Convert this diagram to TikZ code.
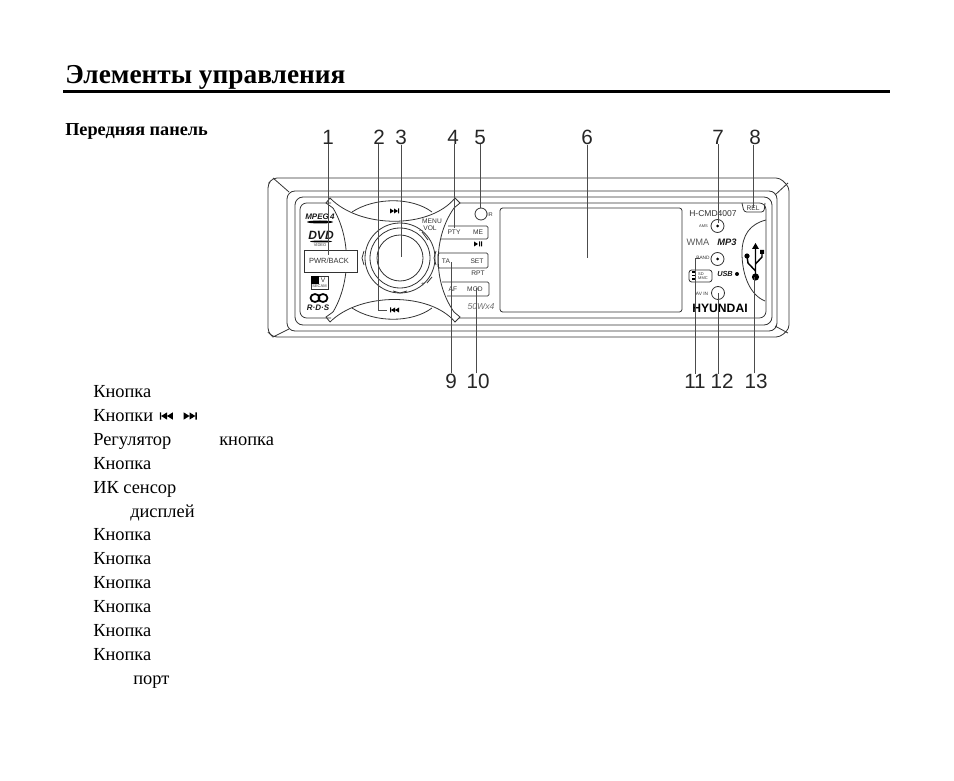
\documentclass[tikz,border=0pt]{standalone}
\usepackage{fontspec}
\setmainfont{Liberation Serif}
\setsansfont{Liberation Sans}
\tikzset{
  num/.style={font=\sffamily\fontsize{15.5}{15.5}\selectfont, inner sep=0pt, text=black!85},
  lead/.style={black!70, line width=.55pt},
  panel/.style={black!80, line width=.6pt},
  body/.style={anchor=base west, inner sep=0pt, font=\fontsize{13.8}{15}\selectfont},
  lab/.style={font=\sffamily\fontsize{5}{5}\selectfont, inner sep=0pt, text=black!80},
  tiny/.style={font=\sffamily\fontsize{3}{3}\selectfont, inner sep=0pt, text=black!80},
  logo/.style={font=\sffamily\bfseries\itshape\fontsize{6}{6}\selectfont, inner sep=0pt, text=black!90}
}
% two triangles and a bar, #1 = size, #2 = centre, #3 = 1 for forward, -1 for back
\newcommand{\trackmark}[3][1]{%
  \fill[shift={(#2)}, x=#1*#3*.75pt, y=#1*.75pt] (-4,-2.5) -- (0,0) -- (-4,2.5) -- cycle
    (0,-2.5) -- (4,0) -- (0,2.5) -- cycle (4,-2.5) rectangle (5,2.5);}
\begin{document}
\begin{tikzpicture}[x=.75pt, y=-.75pt]
\useasboundingbox (0,0) rectangle (954,781);
% ------ title -----------------
\node [anchor=base west, inner sep=0pt, font=\bfseries\fontsize{20.5}{22}\selectfont] (title) at (65,84) {Элементы управления};
\draw [line width=2.2pt] (63,91.5) -- (890,91.5);
\node [anchor=base west, inner sep=0pt, font=\bfseries\fontsize{13.7}{14}\selectfont] (front) at (65,135.5) {Передняя панель};
% ------ frames -----------------
\draw [panel, rounded corners=3] (273,178) -- (780,178) -- (789,187) -- (789,329) -- (780,337) -- (273,337) -- (268,332) -- (268,184) -- cycle;
\draw [panel, rounded corners=6] (287,191) rectangle (777,331);
\draw [panel, rounded corners=6] (295,197) rectangle (772,325);
\draw [panel, rounded corners=5] (331,203) -- (300,203) -- (300,318) -- (331,318);
\draw [panel, rounded corners=5] (459,203) -- (766,203) -- (766,318) -- (459,318);
\draw [panel] (273,178) -- (289,192) (273,337) -- (289,329) (788,183) -- (775,195) (788,333) -- (775,326);
% ------ arcs -----------------
\draw [panel] (330,198) .. controls (360,229) and (430,229) .. (455,198) -- (460,203) -- (454,208);
\draw [panel] (330,198) -- (326,203) -- (333,208);
\draw [panel] (352,212) .. controls (375,197) and (412,197) .. (432,212);
\draw [panel] (330,322) .. controls (360,292) and (430,292) .. (455,322) -- (460,317) -- (454,312);
\draw [panel] (330,322) -- (326,317) -- (333,312);
\draw [panel] (352,308) .. controls (375,323) and (412,323) .. (432,308);
\draw [panel] (333,208) .. controls (351,238) and (351,282) .. (333,312);
\draw [panel] (454,208) .. controls (433,238) and (433,282) .. (454,312);
\trackmark{394,211}{1}
\trackmark{395,310}{-1}
% ------ knob -----------------
\draw [panel] (400,258) circle (35) circle (30) circle (23);
\draw [panel] (364,251) -- (362,258) -- (364,265) (436,251) -- (434,258) -- (436,265) (393,291) -- (400,293) -- (407,291);
\draw [panel] (422,232) -- (428,240) (432,277) -- (427,283);
\node [lab] (menu) at (432,221) {MENU};
\node [lab] (vol) at (430,228) {VOL};
\node [lab] (minus) at (421,232) {--};
\node [lab] (plus) at (423,285) {+};
% ------ left logos -----------------
\node [logo] (mpeg) at (320,217) {MPEG\,4};
\fill (320,222) ellipse (13 and 1.5);
\node [logo, font=\sffamily\bfseries\itshape\fontsize{9}{9}\selectfont] (dvd) at (321,235) {DVD};
\fill (321,241.5) ellipse (11 and 1);
\node [tiny] (video) at (320,245) {VIDEO};
\draw [panel, fill=white] (304,250) rectangle (357,272);
\node [lab, font=\sffamily\fontsize{5.6}{6}\selectfont] (pwr) at (329,261) {PWR/BACK};
\draw [panel] (311,276) rectangle (328,289);
\fill (311,276) rectangle (319,284);
\node [lab] (tv) at (323,280) {V};
\node [tiny] (secam) at (319.5,286.5) {SECAM};
\draw [line width=1.3pt] (315,298) ellipse (4.5 and 4) (323,298) ellipse (4.5 and 4);
\node [logo] (rds) at (318,308) {R·D·S};
% ------ middle keys -----------------
\draw [panel, rounded corners=1] (448,226) -- (488,226) -- (488,239) -- (441,239);
\draw [panel, rounded corners=1] (438,253) rectangle (488,268);
\draw [panel, rounded corners=1] (442,282) -- (489,282) -- (489,296) -- (447,296);
\node [lab] (pty) at (454,232) {PTY};
\node [lab] (me) at (478,232) {ME};
\node [lab] (ta) at (446,261) {TA};
\node [lab] (set) at (477,261) {SET};
\node [lab] (af) at (453,289) {AF};
\node [lab] (mod) at (475,289) {MOD};
\node [lab] (rpt) at (478,273) {RPT};
\fill (474,241.5) -- (478,244) -- (474,246.5) -- cycle (479,241.5) rectangle (480,246.5) (481,241.5) rectangle (482,246.5);
\draw [panel] (481,214) circle (6);
\node [tiny, font=\sffamily\fontsize{4}{4}\selectfont] (ir) at (490,215) {IR};
\node [font=\sffamily\itshape\fontsize{6.5}{7}\selectfont, inner sep=0pt, text=black!55] (watt) at (481,307) {50Wx4};
\draw [panel, rounded corners=2] (500,208) rectangle (682,312);
% ------ right side -----------------
\node [lab, font=\sffamily\fontsize{6.4}{6}\selectfont] (model) at (713,213.5) {H-CMD4007};
\draw [panel] (717.5,226) circle (6.5) (717.5,259) circle (6.5) (718,293) circle (6.5);
\fill (717.5,226) circle (1.5) (717.5,259) circle (1.5);
\node [tiny] (ams) at (703.5,226) {AMS};
\node [tiny, font=\sffamily\fontsize{3.6}{4}\selectfont] (band) at (703,257.5) {BAND};
\node [tiny, font=\sffamily\fontsize{3.6}{4}\selectfont] (avin) at (702,293.5) {AV IN};
\node [lab, font=\sffamily\fontsize{7}{7}\selectfont, text=black!65] (wma) at (698,242) {WMA};
\node [logo, font=\sffamily\bfseries\itshape\fontsize{7}{7}\selectfont] (mp3) at (727,242) {MP3};
\draw [panel, rounded corners=2] (689,270) rectangle (712,282);
\draw [line width=.8pt] (692,272) -- (696,272) (692,275.5) -- (696,275.5) (692,279) -- (696,279);
\node [tiny, align=left] (sd) at (703,276) {SD\\MMC};
\node [logo, font=\sffamily\bfseries\itshape\fontsize{5.5}{6}\selectfont] (usb) at (725,274) {USB};
\fill (737,274) circle (2);
\node [font=\sffamily\bfseries\fontsize{9.1}{9}\selectfont, inner sep=0pt] (brand) at (720,308) {HYUNDAI};
\draw [panel, rounded corners=2] (742,203) -- (744,212) -- (764,212) -- (765,203);
\node [lab] (rel) at (753,208) {REL};
\draw [panel] (766,220) .. controls (750,224) and (742,235) .. (742,253) .. controls (742,275) and (750,295) .. (765,301);
% ------ usb sign -----------------
\draw [line width=1.1pt] (755.5,248) -- (755.5,277) (755.5,271) -- (748,263) -- (747,256) (755.5,264) -- (762,257) -- (762,252);
\fill (755.5,243) -- (752,249) -- (759,249) -- cycle (755.5,277) circle (3.6) (747,256) circle (2.6) (760,250) rectangle (764,254);
% ------ numbers and leaders -----------------
\foreach \nm/\px/\ex/\ey in {1/328/328/255, 2/379/378/310, 3/401/401/257, 4/453/454/228, 5/480/480/208, 6/587/587/258, 7/718/718/223, 8/755/753/208} {
  \node [num] (n\nm) at (\px,137) {\nm};
  \coordinate (e\nm) at (\ex,\ey);
  \draw [lead] (n\nm.south -| e\nm) -- (e\nm);
}
\foreach \nm/\px/\ex/\ey in {9/451/451/262, 10/478/476/288, 11/695/695/258, 12/722/718/293, 13/756/754/277} {
  \node [num] (n\nm) at (\px,381) {\nm};
  \coordinate (e\nm) at (\ex,\ey);
  \draw [lead] (n\nm.north -| e\nm) -- (e\nm);
}
\coordinate (f2) at (387,310);
\coordinate (f11) at (700,258);
\draw [lead] (e2) -- (f2);
\draw [lead] (e11) -- (f11);
% ------ list -----------------
\foreach \row/\yy/\tx in {a/397/Кнопка, b/421/Кнопки, c/445/Регулятор, d/469/Кнопка, e/493/ИК сенсор, g/540/Кнопка, h/564/Кнопка, i/588/Кнопка, j/612/Кнопка, k/636/Кнопка, l/660/Кнопка}
  \node [body] (row\row) at (93,\yy) {\tx};
\node [body] (rowc2) at (219,445) {кнопка};
\node [body] (rowf) at (130,517) {дисплей};
\node [body] (rowm) at (133,684) {порт};
\trackmark[1.45]{167,416}{-1}
\trackmark[1.45]{189.5,416}{1}
\end{tikzpicture}
\end{document}
